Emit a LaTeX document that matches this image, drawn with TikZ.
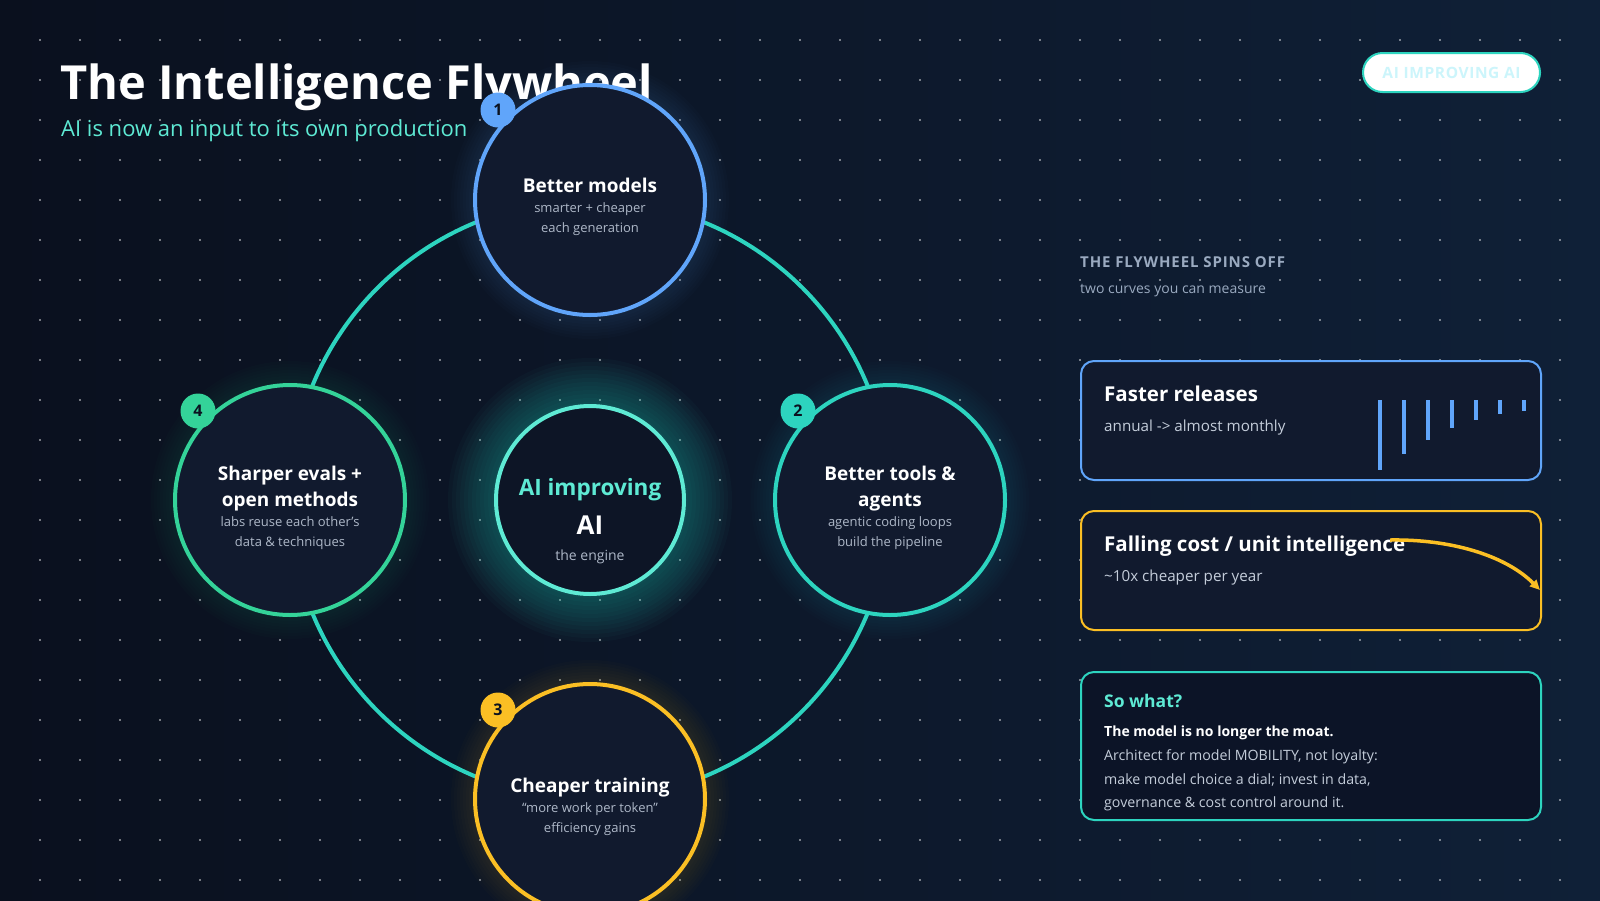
\documentclass[tikz,border=0pt]{standalone}
\usepackage{fontspec}
\setmainfont{Open Sans}
\usepackage{tikz}
\usetikzlibrary{positioning,arrows.meta}
\definecolor{bgleft}{HTML}{0A101E}
\definecolor{bgright}{HTML}{0F2037}
\definecolor{stagefill}{HTML}{111A2E}
\definecolor{hubfill}{HTML}{0D1526}
\definecolor{notefill}{HTML}{0C1427}
\definecolor{fwblue}{HTML}{60A5FA}
\definecolor{fwteal}{HTML}{2DD4BF}
\definecolor{fwgreen}{HTML}{34D399}
\definecolor{fwyellow}{HTML}{FBBF24}
\definecolor{fwmint}{HTML}{5EEAD4}
\definecolor{fwgray}{HTML}{AEB8C8}
\definecolor{fwslate}{HTML}{9AAAC0}
\definecolor{fwlight}{HTML}{C4CDDA}
\definecolor{fwink}{HTML}{0B1220}
\definecolor{fwice}{HTML}{CCF5FB}
\newcommand{\stagehead}{\bfseries\fontsize{19}{20}\selectfont}
\newcommand{\stagesub}{\color{fwgray}\fontsize{13}{20}\selectfont}
\pgfdeclarelayer{backdrop}
\pgfdeclarelayer{glow}
\pgfsetlayers{backdrop,glow,main}

\begin{document}
\begin{tikzpicture}[x=1pt, y=-1pt,
    stage/.style={circle, draw, line width=4pt, fill=stagefill, minimum size=230pt, inner sep=0pt},
    stagetext/.style={anchor=base, align=center, inner sep=0pt, text=white, font=\fontsize{13}{20}\selectfont},
    badge/.style={circle, minimum size=35pt, inner sep=0pt, text=fwink, font=\bfseries\fontsize{16}{16}\selectfont},
    txt/.style={anchor=base west, inner sep=0pt},
    card/.style={rectangle, draw, line width=2pt, rounded corners=13pt, fill=stagefill, minimum width=460pt, anchor=north west},
    cardhead/.style={txt, text=white, font=\bfseries\fontsize{20.5}{24}\selectfont},
    cardsub/.style={txt, text=fwlight, font=\fontsize{15.2}{18}\selectfont},
    ring/.style={draw=fwteal, line width=4pt}
]
    \useasboundingbox (0,0) rectangle (1600,900);

    % Backdrop
    \begin{pgfonlayer}{backdrop}
        \shade[left color=bgleft, right color=bgright] (0,0) rectangle (1600,900);
        \foreach \x in {40,80,...,1560}
            \foreach \y in {40,80,...,880}
                \fill[white, opacity=0.6] (\x,\y) circle (1.1);
    \end{pgfonlayer}

    % Heading
    \node[txt, text=white, font=\bfseries\fontsize{47}{56}\selectfont] (title) at (60,99) {The Intelligence Flywheel};
    \node[txt, text=fwmint, font=\fontsize{22}{28}\selectfont] (subtitle) at (61,136) {AI is now an input to its own production};
    \node[rectangle, draw=fwteal, line width=2pt, fill=white, rounded corners=19.5pt, minimum width=177pt, minimum height=39pt,
          text=fwice, font=\bfseries\fontsize{15.5}{16}\selectfont\addfontfeature{LetterSpace=4}] (tag) at (1451.5,72.5) {AI IMPROVING AI};

    % Flywheel stages
    \node[stage, draw=fwblue] (models) at (590,200) {};
    \node[stage, draw=fwteal] (tools) at (890,500) {};
    \node[stage, draw=fwyellow] (training) at (590,799) {};
    \node[stage, draw=fwgreen] (evals) at (290,500) {};
    \node[circle, draw=fwmint, line width=4pt, fill=hubfill, minimum size=188pt, inner sep=0pt] (hub) at (590,500) {};

    % Ring and glow
    \begin{pgfonlayer}{glow}
        \foreach \n/\c in {models/fwblue, tools/fwteal, training/fwyellow, evals/fwgreen}
            \foreach \k in {1,...,8}
                \fill[\c, opacity=0.016] (\n) circle ({115+3*\k});
        \foreach \k in {1,...,12}
            \fill[fwteal, opacity=0.03] (hub) circle ({94+4*\k});
        \draw[ring] (models.center) to[bend left=45] (tools.center) to[bend left=45] (training.center)
            to[bend left=45] (evals.center) to[bend left=45] (models.center);
    \end{pgfonlayer}

    % Badges
    \node[badge, fill=fwblue] (b1) at ([shift={(-92,-90)}]models) {1};
    \node[badge, fill=fwteal] (b2) at ([shift={(-92,-89)}]tools) {2};
    \node[badge, fill=fwyellow] (b3) at ([shift={(-92,-89)}]training) {3};
    \node[badge, fill=fwgreen] (b4) at ([shift={(-92,-89)}]evals) {4};

    % Stage texts (base = last line)
    \node[stagetext] (modelsT) at (590,232) {{\stagehead Better models}\\{\stagesub smarter + cheaper}\\{\stagesub each generation}};
    \node[stagetext] (toolsT) at (890,546) {{\stagehead Better tools \&}\\[6pt]{\stagehead agents}\\{\stagesub agentic coding loops}\\{\stagesub build the pipeline}};
    \node[stagetext] (trainingT) at (590,832) {{\stagehead Cheaper training}\\{\stagesub “more work per token”}\\{\stagesub efficiency gains}};
    \node[stagetext] (evalsT) at (290,546) {{\stagehead Sharper evals +}\\[6pt]{\stagehead open methods}\\{\stagesub labs reuse each other's}\\{\stagesub data \& techniques}};

    % Hub
    \node[anchor=base, inner sep=0pt, text=fwmint, font=\bfseries\fontsize{22.5}{24}\selectfont] (hubA) at (590,495) {AI improving};
    \node[anchor=base, inner sep=0pt, text=white, font=\bfseries\fontsize{26}{30}\selectfont] (hubB) at (590,534) {AI};
    \node[anchor=base, inner sep=0pt, text=fwgray, font=\fontsize{14}{16}\selectfont] (hubC) at (590,560) {the engine};

    % Side panel
    \node[txt, text=fwslate, font=\bfseries\fontsize{15}{18}\selectfont\addfontfeature{LetterSpace=6}] (spins) at (1080,267) {THE FLYWHEEL SPINS OFF};
    \node[txt, text=fwslate, font=\fontsize{14}{18}\selectfont] (spinsS) at (1080,293) {two curves you can measure};

    \node[card, draw=fwblue, minimum height=119pt] (releases) at (1080,360) {};
    \node[cardhead] (releasesT) at ([shift={(24,41.7)}]releases.north west) {Faster releases};
    \node[cardsub] (releasesS) at ([shift={(24,71.7)}]releases.north west) {annual -> almost monthly};
    \foreach \i/\h in {0/70,1/54,2/40,3/28,4/20,5/14,6/11}
        \fill[fwblue] ({1378+24*\i},400) rectangle ++(4,\h);

    \node[card, draw=fwyellow, minimum height=119pt] (cost) at (1080,510) {};
    \node[cardhead] (costT) at ([shift={(24,41.7)}]cost.north west) {Falling cost / unit intelligence};
    \node[cardsub] (costS) at ([shift={(24,71.7)}]cost.north west) {\textasciitilde10x cheaper per year};
    \draw[fwyellow, line width=3.5pt, -{Triangle[length=10pt,width=9pt]}] (1390,540) .. controls (1450,539) and (1505,555) .. (1540,590);

    \node[card, draw=fwteal, fill=notefill, minimum height=148pt] (sowhat) at (1080,671) {};
    \node[txt, text=fwmint, font=\bfseries\fontsize{17.5}{20}\selectfont] (sowhatT) at ([shift={(24,36.7)}]sowhat.north west) {So what?};
    \node[txt, text=white, font=\bfseries\fontsize{14}{18}\selectfont] (moat) at ([shift={(24,65)}]sowhat.north west) {The model is no longer the moat.};
    \node[txt, align=left, text=fwlight, font=\fontsize{14.2}{23.5}\selectfont] (advice) at ([shift={(24,136.7)}]sowhat.north west)
        {Architect for model MOBILITY, not loyalty:\\make model choice a dial; invest in data,\\governance \& cost control around it.};
\end{tikzpicture}
\end{document}
